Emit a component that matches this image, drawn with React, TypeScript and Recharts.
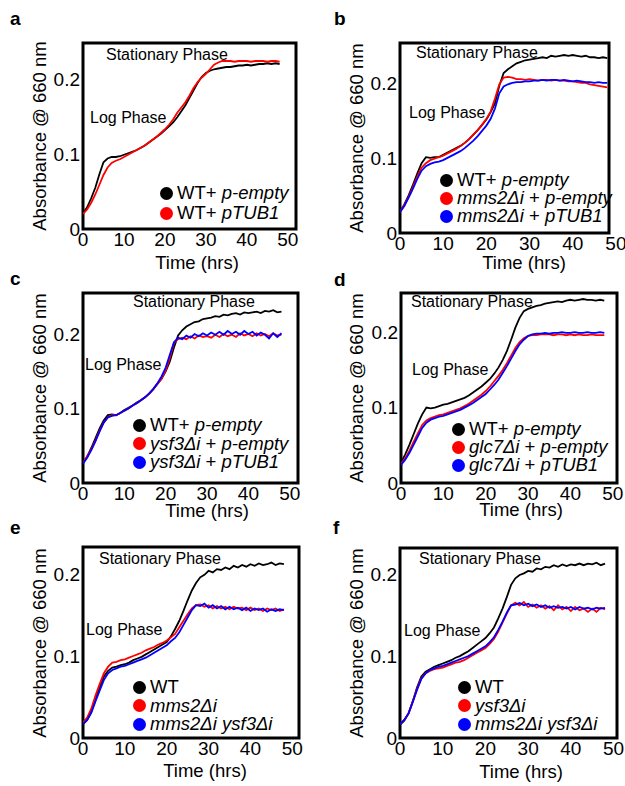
import { LineChart, Line, XAxis, YAxis, ReferenceArea, Legend } from 'recharts';

const FONT = '"Liberation Sans", Arial, Helvetica, sans-serif';

// sampling times (hrs)
const hours = [
  0, 1, 2, 3, 4, 5, 6, 7, 8, 9, 10, 11, 12, 13, 14, 15, 16, 17, 18, 19, 20, 21, 22, 23, 24,
  25, 26, 27, 28, 29, 30, 31, 32, 33, 34, 35, 36, 37, 38, 39, 40, 41, 42, 43, 44, 45, 46, 47, 48,
];

const xTicks = [0, 10, 20, 30, 40, 50];
const yTicks = [0, 0.1, 0.2];

// panel a
const aWtEmpty = [
  0.021, 0.029, 0.041, 0.055, 0.073, 0.089, 0.094, 0.096, 0.096, 0.097,
  0.099, 0.101, 0.103, 0.105, 0.108, 0.111, 0.115, 0.119, 0.123, 0.127,
  0.132, 0.137, 0.142, 0.149, 0.157, 0.165, 0.175, 0.185, 0.195, 0.203,
  0.208, 0.211, 0.213, 0.214, 0.215, 0.216, 0.216, 0.217, 0.218, 0.218,
  0.219, 0.218, 0.219, 0.22, 0.22, 0.221, 0.22, 0.221, 0.22,
];
const aWtTub = [
  0.02, 0.026, 0.035, 0.046, 0.059, 0.072, 0.082, 0.088, 0.091, 0.093,
  0.096, 0.099, 0.102, 0.105, 0.108, 0.111, 0.115, 0.119, 0.123, 0.128,
  0.133, 0.139, 0.146, 0.155, 0.162, 0.169, 0.178, 0.188, 0.196, 0.202,
  0.207, 0.213, 0.219, 0.222, 0.224, 0.224, 0.224, 0.223, 0.224, 0.224,
  0.224, 0.223, 0.224, 0.224, 0.224, 0.223, 0.224, 0.224, 0.223,
];

// panel b
const bWtEmpty = [
  0.028, 0.038, 0.05, 0.064, 0.079, 0.093, 0.101, 0.1, 0.101, 0.101,
  0.104, 0.107, 0.11, 0.113, 0.116, 0.12, 0.125, 0.131, 0.137, 0.144,
  0.151, 0.161, 0.173, 0.196, 0.213, 0.218, 0.222, 0.226, 0.228, 0.23,
  0.231, 0.232, 0.233, 0.234, 0.233, 0.236, 0.235, 0.236, 0.237, 0.236,
  0.237, 0.236, 0.235, 0.236, 0.234, 0.234, 0.233, 0.234, 0.233,
];
const bMmsEmpty = [
  0.028, 0.037, 0.048, 0.061, 0.075, 0.087, 0.093, 0.097, 0.099, 0.101,
  0.103, 0.106, 0.109, 0.112, 0.116, 0.12, 0.125, 0.131, 0.137, 0.144,
  0.152, 0.162, 0.179, 0.198, 0.207, 0.208, 0.207, 0.205, 0.205, 0.204,
  0.205, 0.204, 0.203, 0.204, 0.204, 0.203, 0.204, 0.203, 0.203, 0.202,
  0.202, 0.201, 0.2, 0.2, 0.198, 0.197, 0.196, 0.195, 0.194,
];
const bMmsTub = [
  0.028, 0.036, 0.047, 0.059, 0.072, 0.083, 0.089, 0.092, 0.094, 0.095,
  0.097, 0.1, 0.103, 0.106, 0.109, 0.113, 0.118, 0.123, 0.129, 0.136,
  0.143, 0.152, 0.166, 0.186, 0.195, 0.198, 0.2, 0.201, 0.201, 0.202,
  0.202, 0.203, 0.203, 0.204, 0.203, 0.204, 0.204, 0.203, 0.204, 0.203,
  0.202, 0.203, 0.202, 0.201, 0.201, 0.2, 0.201, 0.2, 0.2,
];

// panel c
const cWtEmpty = [
  0.027, 0.035, 0.047, 0.06, 0.073, 0.084, 0.091, 0.092, 0.091, 0.094,
  0.098, 0.101, 0.104, 0.108, 0.111, 0.115, 0.12, 0.126, 0.133, 0.14,
  0.15, 0.163, 0.182, 0.198, 0.205, 0.21, 0.213, 0.216, 0.217, 0.22,
  0.221, 0.222, 0.224, 0.223, 0.226, 0.225, 0.227, 0.228, 0.226, 0.229,
  0.228, 0.229, 0.23, 0.228, 0.231, 0.23, 0.232, 0.229, 0.23,
];
const cYsfEmpty = [
  0.027, 0.036, 0.045, 0.057, 0.07, 0.081, 0.088, 0.091, 0.091, 0.094,
  0.097, 0.1, 0.104, 0.107, 0.111, 0.115, 0.12, 0.126, 0.133, 0.14,
  0.151, 0.168, 0.188, 0.193, 0.195, 0.193, 0.197, 0.194, 0.198, 0.196,
  0.197, 0.195, 0.199, 0.196, 0.2, 0.197, 0.199, 0.196, 0.201, 0.198,
  0.2, 0.197, 0.201, 0.198, 0.2, 0.197, 0.201, 0.198, 0.199,
];
const cYsfTub = [
  0.026, 0.034, 0.044, 0.056, 0.069, 0.081, 0.088, 0.09, 0.091, 0.094,
  0.097, 0.1, 0.104, 0.107, 0.111, 0.115, 0.12, 0.126, 0.134, 0.143,
  0.155, 0.172, 0.189, 0.195, 0.193, 0.198, 0.195, 0.2, 0.197, 0.201,
  0.198, 0.202, 0.199, 0.203, 0.199, 0.204, 0.2, 0.203, 0.199, 0.204,
  0.2, 0.203, 0.198, 0.202, 0.199, 0.194, 0.201, 0.196, 0.201,
];

// panel d
const dWtEmpty = [
  0.027, 0.038, 0.051, 0.065, 0.079, 0.091, 0.1, 0.099, 0.1, 0.102,
  0.104, 0.105, 0.107, 0.109, 0.111, 0.113, 0.116, 0.12, 0.124, 0.128,
  0.133, 0.138, 0.145, 0.153, 0.163, 0.175, 0.19, 0.206, 0.219, 0.228,
  0.231, 0.233, 0.235, 0.236, 0.238, 0.239, 0.24, 0.241, 0.24, 0.242,
  0.243, 0.242, 0.243, 0.244, 0.243, 0.243, 0.242, 0.243, 0.242,
];
const dGlcEmpty = [
  0.025, 0.033, 0.043, 0.055, 0.066, 0.077, 0.083, 0.086, 0.088, 0.09,
  0.091, 0.093, 0.095, 0.097, 0.099, 0.102, 0.105, 0.109, 0.113, 0.117,
  0.122, 0.128, 0.135, 0.142, 0.15, 0.159, 0.169, 0.179, 0.187, 0.192,
  0.195, 0.196, 0.196, 0.197, 0.197, 0.197, 0.196, 0.197, 0.197, 0.196,
  0.197, 0.196, 0.197, 0.196, 0.196, 0.197, 0.196, 0.196, 0.196,
];
const dGlcTub = [
  0.024, 0.031, 0.04, 0.051, 0.062, 0.073, 0.08, 0.084, 0.086, 0.088,
  0.089, 0.091, 0.093, 0.095, 0.097, 0.1, 0.103, 0.106, 0.11, 0.114,
  0.118, 0.124, 0.13, 0.137, 0.146, 0.155, 0.165, 0.175, 0.184, 0.19,
  0.195, 0.197, 0.198, 0.198, 0.199, 0.198, 0.199, 0.199, 0.2, 0.199,
  0.199, 0.2, 0.199, 0.199, 0.2, 0.199, 0.199, 0.2, 0.199,
];

// panel e
const eWt = [
  0.017, 0.022, 0.032, 0.047, 0.062, 0.075, 0.082, 0.086, 0.087, 0.089,
  0.09, 0.092, 0.095, 0.097, 0.099, 0.102, 0.105, 0.108, 0.111, 0.114,
  0.117, 0.124, 0.133, 0.143, 0.155, 0.168, 0.18, 0.189, 0.196, 0.199,
  0.204, 0.202, 0.206, 0.205, 0.208, 0.206, 0.21, 0.208, 0.211, 0.209,
  0.212, 0.21, 0.213, 0.211, 0.212, 0.214, 0.211, 0.213, 0.212,
];
const eMms = [
  0.019, 0.025, 0.036, 0.052, 0.066, 0.079, 0.087, 0.092, 0.093, 0.095,
  0.096, 0.098, 0.1, 0.102, 0.104, 0.107, 0.109, 0.111, 0.114, 0.116,
  0.119, 0.123, 0.127, 0.135, 0.143, 0.151, 0.158, 0.162, 0.163, 0.16,
  0.162, 0.158, 0.161, 0.158, 0.16, 0.157, 0.16, 0.158, 0.159, 0.156,
  0.159, 0.156, 0.158, 0.155, 0.158, 0.156, 0.158, 0.155, 0.157,
];
const eMmsYsf = [
  0.017, 0.022, 0.031, 0.045, 0.058, 0.071, 0.079, 0.083, 0.085, 0.087,
  0.088, 0.09, 0.092, 0.094, 0.096, 0.098, 0.101, 0.104, 0.107, 0.11,
  0.113, 0.118, 0.122, 0.129, 0.138, 0.147, 0.156, 0.162, 0.161, 0.164,
  0.159, 0.162, 0.158, 0.161, 0.157, 0.16, 0.157, 0.159, 0.156, 0.159,
  0.155, 0.158, 0.156, 0.158, 0.154, 0.157, 0.155, 0.157, 0.156,
];

// panel f
const fWt = [
  0.016, 0.021, 0.03, 0.045, 0.062, 0.075, 0.081, 0.084, 0.087, 0.089,
  0.091, 0.093, 0.095, 0.098, 0.1, 0.103, 0.106, 0.11, 0.114, 0.118,
  0.122, 0.128, 0.135, 0.146, 0.158, 0.172, 0.187, 0.195, 0.199, 0.201,
  0.204, 0.203, 0.207, 0.206, 0.209, 0.208, 0.211, 0.209, 0.212, 0.21,
  0.212, 0.211, 0.213, 0.211, 0.213, 0.212, 0.214, 0.211, 0.213,
];
const fYsf = [
  0.017, 0.022, 0.03, 0.045, 0.06, 0.073, 0.079, 0.082, 0.084, 0.085,
  0.086, 0.088, 0.09, 0.092, 0.093, 0.095, 0.098, 0.101, 0.104, 0.107,
  0.11, 0.115, 0.121, 0.13, 0.141, 0.152, 0.162, 0.165, 0.162, 0.166,
  0.16, 0.163, 0.159, 0.162, 0.158, 0.161, 0.156, 0.162, 0.157, 0.16,
  0.155, 0.16, 0.156, 0.158, 0.154, 0.158, 0.154, 0.159, 0.157,
];
const fMmsYsf = [
  0.017, 0.022, 0.03, 0.044, 0.059, 0.072, 0.079, 0.083, 0.085, 0.087,
  0.088, 0.09, 0.092, 0.094, 0.096, 0.098, 0.1, 0.103, 0.106, 0.109,
  0.112, 0.117, 0.123, 0.132, 0.142, 0.153, 0.162, 0.163, 0.165, 0.162,
  0.164, 0.161, 0.163, 0.16, 0.162, 0.159, 0.161, 0.159, 0.16, 0.158,
  0.16, 0.157, 0.16, 0.158, 0.159, 0.157, 0.159, 0.158, 0.159,
];

// legend labels: [text, italic]
type Seg = [string, boolean];
const lblWtEmpty: Seg[] = [['WT+ ', false], ['p-empty', true]];
const lblWtTub: Seg[] = [['WT+ ', false], ['pTUB1', true]];
const lblMmsEmpty: Seg[] = [['mms2Δi', true], [' + ', false], ['p-empty', true]];
const lblMmsTub: Seg[] = [['mms2Δi', true], [' + ', false], ['pTUB1', true]];
const lblYsfEmpty: Seg[] = [['ysf3Δi', true], [' + ', false], ['p-empty', true]];
const lblYsfTub: Seg[] = [['ysf3Δi', true], [' + ', false], ['pTUB1', true]];
const lblGlcEmpty: Seg[] = [['glc7Δi', true], [' + ', false], ['p-empty', true]];
const lblGlcTub: Seg[] = [['glc7Δi', true], [' + ', false], ['pTUB1', true]];
const lblWt: Seg[] = [['WT', false]];
const lblMms: Seg[] = [['mms2Δi', true]];
const lblYsf: Seg[] = [['ysf3Δi', true]];
const lblMmsYsf: Seg[] = [['mms2Δi ysf3Δi', true]];

const BLACK = '#000000';
const RED = '#ff0000';
const BLUE = '#0000ff';

type Series = { values: number[]; color: string; label: Seg[] };
type Panel = {
  letter: string;
  box: { l: number; t: number; r: number; b: number };
  xMax: number;
  yMax: number;
  series: Series[];
  legend: { x: number; y: number; rowH: number };
  stat: { x: number; y: number };
  log: { x: number; y: number };
  letterPos: { x: number; y: number };
  xTitle: { x: number; y: number };
  yTitleX: number;
};

const panels: Panel[] = [
  {
    letter: 'a',
    box: { l: 83, t: 43, r: 296, b: 229 },
    xMax: 52,
    yMax: 0.248,
    series: [
      { values: aWtEmpty, color: BLACK, label: lblWtEmpty },
      { values: aWtTub, color: RED, label: lblWtTub },
    ],
    legend: { x: 160, y: 183, rowH: 20 },
    stat: { x: 106, y: 55 },
    log: { x: 90, y: 118 },
    letterPos: { x: 10, y: 9 },
    xTitle: { x: 197, y: 263 },
    yTitleX: 40,
  },
  {
    letter: 'b',
    box: { l: 400, t: 43, r: 609, b: 233 },
    xMax: 48.4,
    yMax: 0.253,
    series: [
      { values: bWtEmpty, color: BLACK, label: lblWtEmpty },
      { values: bMmsEmpty, color: RED, label: lblMmsEmpty },
      { values: bMmsTub, color: BLUE, label: lblMmsTub },
    ],
    legend: { x: 440, y: 171, rowH: 18 },
    stat: { x: 416, y: 53 },
    log: { x: 409, y: 113 },
    letterPos: { x: 334, y: 9 },
    xTitle: { x: 524, y: 263 },
    yTitleX: 357,
  },
  {
    letter: 'c',
    box: { l: 83, t: 293, r: 298, b: 483 },
    xMax: 52,
    yMax: 0.255,
    series: [
      { values: cWtEmpty, color: BLACK, label: lblWtEmpty },
      { values: cYsfEmpty, color: RED, label: lblYsfEmpty },
      { values: cYsfTub, color: BLUE, label: lblYsfTub },
    ],
    legend: { x: 133, y: 416, rowH: 18.5 },
    stat: { x: 133, y: 302 },
    log: { x: 85, y: 365 },
    letterPos: { x: 10, y: 269 },
    xTitle: { x: 207, y: 511 },
    yTitleX: 40,
  },
  {
    letter: 'd',
    box: { l: 401, t: 293, r: 617, b: 483 },
    xMax: 51,
    yMax: 0.252,
    series: [
      { values: dWtEmpty, color: BLACK, label: lblWtEmpty },
      { values: dGlcEmpty, color: RED, label: lblGlcEmpty },
      { values: dGlcTub, color: BLUE, label: lblGlcTub },
    ],
    legend: { x: 452, y: 420, rowH: 18 },
    stat: { x: 411, y: 302 },
    log: { x: 412, y: 370 },
    letterPos: { x: 334, y: 270 },
    xTitle: { x: 521, y: 510 },
    yTitleX: 357,
  },
  {
    letter: 'e',
    box: { l: 83, t: 547, r: 299, b: 738 },
    xMax: 51.6,
    yMax: 0.233,
    series: [
      { values: eWt, color: BLACK, label: lblWt },
      { values: eMms, color: RED, label: lblMms },
      { values: eMmsYsf, color: BLUE, label: lblMmsYsf },
    ],
    legend: { x: 133, y: 678, rowH: 18.5 },
    stat: { x: 99, y: 559 },
    log: { x: 86, y: 630 },
    letterPos: { x: 10, y: 518 },
    xTitle: { x: 205, y: 771 },
    yTitleX: 40,
  },
  {
    letter: 'f',
    box: { l: 400, t: 548, r: 617, b: 738 },
    xMax: 50.8,
    yMax: 0.232,
    series: [
      { values: fWt, color: BLACK, label: lblWt },
      { values: fYsf, color: RED, label: lblYsf },
      { values: fMmsYsf, color: BLUE, label: lblMmsYsf },
    ],
    legend: { x: 458, y: 678, rowH: 18.5 },
    stat: { x: 419, y: 559 },
    log: { x: 404, y: 631 },
    letterPos: { x: 333, y: 518 },
    xTitle: { x: 521, y: 772 },
    yTitleX: 357,
  },
];

const PAGE_W = 625;
const PAD_L = 50;
const PAD_T = 5;
const PAD_B = 25;

function Note({ x, y, text, size = 16 }: { x: number; y: number; text: string; size?: number }) {
  return (
    <div
      style={{
        position: 'absolute',
        left: x,
        top: y - size / 2,
        fontSize: size,
        lineHeight: `${size}px`,
        whiteSpace: 'nowrap',
      }}
    >
      {text}
    </div>
  );
}

function GrowthPanel({ p }: { p: Panel }) {
  const data = hours.map((h, i) => {
    const row: Record<string, number> = { h };
    p.series.forEach((s, k) => {
      row['s' + k] = s.values[i];
    });
    return row;
  });

  // let the svg run to the page edge so the last tick label is not clipped early
  const padR = Math.min(16, PAGE_W - p.box.r);
  const left = p.box.l - PAD_L;
  const top = p.box.t - PAD_T;
  const width = p.box.r - p.box.l + PAD_L + padR;
  const height = p.box.b - p.box.t + PAD_T + PAD_B;
  const tickStyle = { fontSize: 19, fill: '#000' };

  return (
    <>
      <div style={{ position: 'absolute', left, top }}>
        <LineChart
          width={width}
          height={height}
          data={data}
          margin={{ top: PAD_T, right: padR, bottom: 0, left: 5 }}
        >
          <XAxis
            dataKey="h"
            type="number"
            domain={[0, p.xMax]}
            ticks={xTicks}
            interval={0}
            allowDataOverflow
            axisLine={false}
            tickLine={false}
            tickSize={0}
            tickMargin={4}
            height={PAD_B}
            tick={tickStyle}
          />
          <YAxis
            type="number"
            domain={[0, p.yMax]}
            ticks={yTicks}
            interval={0}
            allowDataOverflow
            axisLine={false}
            tickLine={false}
            tickSize={0}
            tickMargin={3}
            width={PAD_L - 5}
            tick={tickStyle}
            tickFormatter={(v: number) => (v === 0 ? '0' : String(v))}
          />
          {p.series.map((s, k) => (
            <Line
              key={k}
              dataKey={'s' + k}
              type="linear"
              stroke={s.color}
              strokeWidth={1.8}
              dot={false}
              isAnimationActive={false}
            />
          ))}
          <ReferenceArea
            x1={0}
            x2={p.xMax}
            y1={0}
            y2={p.yMax}
            fill="none"
            stroke="#000"
            strokeWidth={3}
            ifOverflow="visible"
          />
          <Legend
            layout="vertical"
            align="center"
            verticalAlign="middle"
            wrapperStyle={{ left: p.legend.x - left, top: p.legend.y - top, width: 'auto' }}
            content={({ payload }: any) => (
              <div style={{ fontSize: 18.5 }}>
                {(payload || []).map((entry: any) => {
                  const idx = Number(String(entry.dataKey).slice(1));
                  const s = p.series[idx];
                  return (
                    <div
                      key={idx}
                      style={{
                        display: 'flex',
                        alignItems: 'center',
                        height: p.legend.rowH,
                        whiteSpace: 'nowrap',
                      }}
                    >
                      <span
                        style={{
                          display: 'inline-block',
                          width: 13,
                          height: 13,
                          borderRadius: '50%',
                          background: s.color,
                          marginRight: 4,
                        }}
                      />
                      <span>
                        {s.label.map(([txt, it], j) => (
                          <span key={j} style={{ fontStyle: it ? 'italic' : 'normal', whiteSpace: 'pre' }}>
                            {txt}
                          </span>
                        ))}
                      </span>
                    </div>
                  );
                })}
              </div>
            )}
          />
        </LineChart>
      </div>
      <Note x={p.stat.x} y={p.stat.y} text="Stationary Phase" />
      <Note x={p.log.x} y={p.log.y} text="Log Phase" />
      <div
        style={{
          position: 'absolute',
          left: p.letterPos.x,
          top: p.letterPos.y,
          fontSize: 19,
          lineHeight: '19px',
          fontWeight: 'bold',
        }}
      >
        {p.letter}
      </div>
      <div
        style={{
          position: 'absolute',
          left: p.xTitle.x,
          top: p.xTitle.y - 8,
          fontSize: 18.5,
          lineHeight: '16px',
          whiteSpace: 'nowrap',
          transform: 'translateX(-50%)',
        }}
      >
        Time (hrs)
      </div>
      <div
        style={{
          position: 'absolute',
          left: p.yTitleX,
          top: (p.box.t + p.box.b) / 2,
          fontSize: 18.5,
          lineHeight: '18px',
          whiteSpace: 'nowrap',
          transform: 'translate(-50%, -50%) rotate(-90deg)',
        }}
      >
        Absorbance @ 660 nm
      </div>
    </>
  );
}

export default function App() {
  return (
    <div
      style={{
        position: 'absolute',
        left: 0,
        top: 0,
        width: PAGE_W,
        height: 786,
        overflow: 'hidden',
        background: '#fff',
        fontFamily: FONT,
        color: '#000',
      }}
    >
      {panels.map((p) => (
        <GrowthPanel key={p.letter} p={p} />
      ))}
    </div>
  );
}
